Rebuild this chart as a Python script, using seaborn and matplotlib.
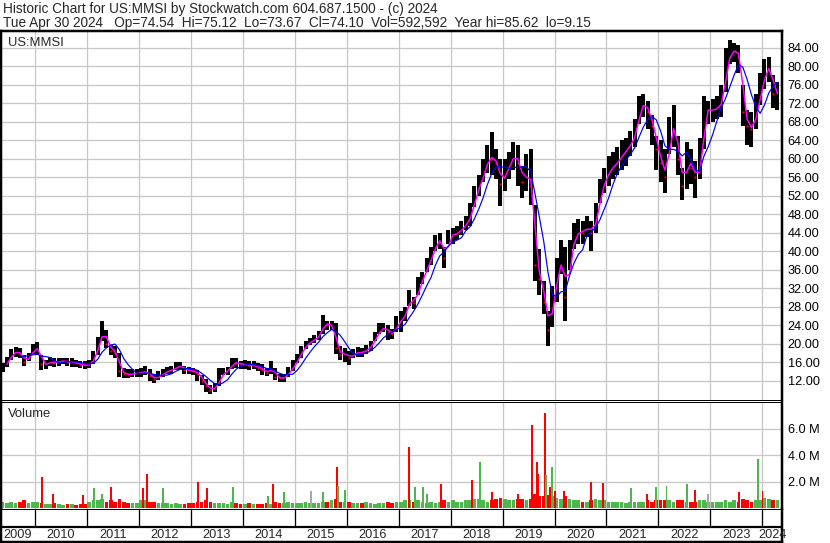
import numpy as np
import pandas as pd
import matplotlib
matplotlib.use("Agg")
import matplotlib.pyplot as plt
import seaborn as sns

# monthly bars, May 2009 .. Apr 2024
start_month = "2009-05"

close = [14.8, 16.3, 17.8, 18.3, 17.8, 16.0, 17.2, 18.8,
         19.0, 15.5, 15.5, 16.2, 15.8, 16.2, 16.3, 16.0, 16.0, 15.8, 15.4, 15.3,
         15.5, 17.0, 20.0, 23.0, 20.0, 18.5, 18.0, 14.0, 13.5, 13.3, 13.5, 13.6,
         13.8, 14.0, 13.0, 12.3, 13.0, 13.5, 14.2, 14.3, 15.0, 15.2, 14.3, 14.2,
         14.0, 13.5, 12.0, 10.8, 10.0, 10.5, 12.5, 14.0, 14.2, 16.0, 15.8, 15.5,
         15.5, 15.2, 15.3, 14.8, 14.3, 13.6, 14.8, 12.8, 12.5, 12.6, 14.0, 15.0,
         16.8, 18.5, 19.8, 20.5, 21.0, 21.8, 24.5, 24.0, 24.0, 19.0, 17.5, 18.0,
         16.8, 17.8, 18.2, 18.0, 18.8, 19.5, 21.5, 23.0, 23.5, 22.5, 22.0, 24.5,
         25.0, 27.0, 30.0, 28.8, 32.5, 34.5, 37.0, 39.0, 42.0, 42.5, 38.5, 43.5,
         43.5, 44.0, 45.0, 46.0, 48.0, 52.0, 54.5, 57.0, 60.5, 60.0, 59.0, 54.5,
         57.0, 59.0, 61.0, 59.0, 55.0, 57.0, 54.0, 37.0, 34.0, 29.0, 23.0, 30.0,
         35.0, 39.0, 30.0, 40.0, 43.0, 44.5, 44.0, 45.5, 44.0, 47.5, 53.0, 55.5,
         57.5, 58.5, 59.5, 61.0, 62.0, 63.5, 65.5, 71.0, 72.0, 70.0, 67.0, 62.0,
         59.0, 56.0, 66.0, 67.0, 60.0, 54.0, 60.0, 58.0, 56.0, 58.0, 70.5, 70.5,
         70.5, 71.0, 72.5, 80.5, 83.0, 83.5, 82.0, 70.0, 67.0, 66.5, 70.5, 75.0,
         79.0, 80.0, 74.0, 74.1]

high = [15.8, 17.2, 18.8, 19.3, 19.0, 17.5, 18.0, 20.0,
        20.3, 17.5, 16.5, 17.2, 16.8, 17.0, 17.0, 16.8, 16.8, 16.5, 16.2, 16.2,
        16.5, 18.5, 21.5, 24.8, 23.0, 19.8, 19.5, 18.0, 14.8, 14.5, 14.5, 14.5,
        14.8, 15.2, 14.5, 13.5, 14.0, 14.5, 15.0, 15.2, 16.0, 16.0, 15.2, 15.0,
        14.8, 14.2, 13.2, 12.3, 11.0, 11.5, 14.8, 14.8, 15.0, 17.0, 16.8, 16.2,
        16.5, 16.2, 16.3, 15.8, 15.5, 14.8, 16.3, 14.8, 13.4, 13.5, 15.0, 16.5,
        17.8, 19.5, 20.5, 21.3, 21.8, 22.8, 26.2, 25.0, 25.0, 24.5, 19.6, 19.0,
        18.5, 18.8, 19.2, 19.0, 19.8, 20.5, 22.5, 24.5, 24.5, 24.0, 23.2, 26.0,
        27.0, 28.0, 31.5, 30.0, 34.5, 35.5, 38.5, 41.0, 43.5, 44.0, 41.0, 44.5,
        45.0, 45.5, 46.5, 47.5, 50.5, 54.0, 56.5, 60.0, 63.0, 65.8, 62.0, 60.0,
        60.0, 61.5, 63.5, 63.0, 58.5, 61.0, 62.0, 50.0, 40.5, 33.5, 27.0, 32.5,
        38.5, 42.5, 41.0, 42.5, 46.0, 47.0, 46.5, 47.5, 46.5, 50.5, 55.5, 58.0,
        60.5, 61.5, 62.5, 64.0, 64.5, 66.0, 68.5, 73.5, 74.0, 72.5, 69.5, 65.0,
        64.0, 62.0, 69.0, 71.7, 65.0, 58.0, 63.5, 62.0, 59.5, 64.5, 73.5, 72.5,
        73.0, 73.5, 76.0, 84.0, 85.6, 85.0, 84.5, 76.0, 70.5, 70.0, 74.0, 78.5,
        81.5, 82.0, 78.0, 76.5]

low = [13.8, 15.0, 16.5, 17.2, 16.8, 15.2, 16.2, 17.5,
       17.5, 14.3, 14.5, 15.2, 15.0, 15.2, 15.5, 15.2, 15.0, 15.0, 14.7, 14.6,
       14.7, 15.5, 17.5, 20.5, 19.0, 17.5, 16.8, 12.8, 12.6, 12.5, 12.7, 12.8,
       12.9, 13.2, 12.0, 11.5, 12.2, 12.8, 13.5, 13.5, 14.2, 14.3, 13.5, 13.5,
       13.3, 12.0, 11.0, 9.6, 9.15, 9.6, 10.8, 13.2, 13.3, 14.6, 14.8, 14.6,
       14.6, 14.3, 14.5, 14.0, 13.2, 13.0, 13.5, 12.2, 11.8, 11.8, 12.8, 14.0,
       15.8, 17.0, 18.8, 19.8, 20.2, 20.8, 22.0, 23.0, 23.0, 17.8, 16.5, 16.0,
       15.4, 16.8, 17.2, 17.2, 17.8, 18.5, 20.5, 22.0, 22.5, 20.8, 21.0, 22.5,
       22.5, 25.0, 28.2, 27.5, 30.5, 33.0, 35.5, 37.0, 40.0, 40.5, 36.4, 41.5,
       41.5, 42.5, 43.5, 44.5, 45.5, 49.5, 52.0, 55.0, 57.0, 56.5, 55.5, 49.7,
       53.0, 55.5, 57.5, 54.0, 51.5, 53.0, 50.0, 33.5, 30.5, 26.5, 19.6, 23.5,
       29.0, 35.0, 25.0, 36.0, 40.5, 41.5, 41.5, 43.0, 40.0, 44.0, 50.5, 52.5,
       54.0, 55.5, 56.5, 57.5, 58.5, 60.5, 62.5, 67.5, 69.0, 66.5, 63.0, 57.5,
       55.0, 52.5, 61.0, 62.5, 56.5, 51.0, 53.5, 54.5, 51.5, 55.5, 62.0, 67.5,
       68.0, 68.5, 69.0, 74.5, 80.5, 81.0, 78.5, 67.0, 63.0, 62.5, 66.5, 71.5,
       75.0, 76.5, 71.0, 70.5]

# typical volume per month (millions)
volume = [0.5, 0.4, 0.5, 0.4, 0.5, 0.6, 0.4, 0.5,
          0.5, 0.4, 0.35, 0.3, 0.4, 0.3, 0.25, 0.3, 0.3, 0.25, 0.3, 0.35,
          0.5, 0.6, 0.6, 0.7, 0.5, 0.6, 0.5, 0.7, 0.5, 0.4, 0.4, 0.4,
          0.6, 0.6, 0.5, 0.5, 0.4, 0.4, 0.4, 0.35, 0.4, 0.35, 0.3, 0.4,
          0.4, 0.5, 0.5, 0.6, 0.5, 0.4, 0.4, 0.4, 0.35, 0.5, 0.4, 0.35,
          0.35, 0.4, 0.3, 0.35, 0.3, 0.4, 0.35, 0.5, 0.4, 0.4, 0.5, 0.4,
          0.4, 0.4, 0.5, 0.4, 0.4, 0.4, 0.5, 0.5, 0.6, 0.7, 0.5, 0.5,
          0.45, 0.4, 0.4, 0.4, 0.45, 0.4, 0.35, 0.4, 0.4, 0.5, 0.4, 0.5,
          0.5, 0.6, 0.6, 0.5, 0.6, 0.5, 0.4, 0.5, 0.4, 0.5, 0.6, 0.5,
          0.6, 0.5, 0.5, 0.6, 0.6, 0.7, 0.7, 0.6, 0.5, 0.6, 0.7, 0.8,
          0.7, 0.6, 0.6, 0.7, 0.7, 0.6, 0.7, 1.1, 0.9, 0.9, 1.0, 0.9,
          0.8, 0.7, 0.9, 0.7, 0.6, 0.6, 0.5, 0.5, 0.6, 0.7, 0.6, 0.6,
          0.5, 0.5, 0.5, 0.5, 0.4, 0.5, 0.5, 0.5, 0.5, 0.6, 0.5, 0.6,
          0.6, 0.6, 0.6, 0.5, 0.6, 0.6, 0.5, 0.5, 0.5, 0.6, 0.6, 0.5,
          0.5, 0.5, 0.5, 0.6, 0.5, 0.6, 0.5, 0.7, 0.6, 0.5, 0.6, 0.6,
          0.8, 0.7, 0.6, 0.6]

# single heavy-volume days (decimal year, millions, bar colour)
spike_t = [2010.13, 2010.35, 2010.92, 2011.14, 2011.29, 2011.46, 2012.08, 2012.16,
           2012.46, 2013.14, 2013.31, 2013.81, 2014.49, 2014.58, 2014.79, 2015.31,
           2015.54, 2015.81, 2015.83, 2015.97, 2017.20, 2017.31, 2017.47, 2017.55,
           2017.82, 2018.41, 2018.57, 2018.80, 2019.30, 2019.57, 2019.66, 2019.68,
           2019.82, 2019.84, 2019.91, 2019.95, 2020.01, 2020.18, 2020.70, 2020.93,
           2021.47, 2021.78, 2021.95, 2022.16, 2022.55, 2022.70, 2022.95, 2023.55,
           2023.92, 2024.00]
spike_v = [2.4, 1.05, 1.0, 1.5, 1.1, 1.6, 1.5, 2.6,
           1.5, 2.0, 1.5, 1.6, 0.9, 1.8, 1.2, 1.3,
           1.2, 3.1, 1.7, 1.4, 4.6, 1.6, 1.6, 1.1,
           1.8, 2.1, 3.5, 1.2, 1.1, 6.3, 3.5, 2.6,
           7.2, 2.5, 1.6, 3.1, 1.3, 1.3, 2.0, 1.9,
           1.5, 1.1, 1.6, 1.7, 1.8, 1.4, 1.1, 1.2,
           3.7, 1.3]
spike_c = ["r", "r", "r", "g", "g", "r", "r", "r",
           "g", "r", "r", "g", "g", "r", "g", "k",
           "g", "r", "g", "g", "r", "g", "g", "g",
           "r", "r", "g", "r", "r", "r", "r", "r",
           "r", "g", "r", "g", "r", "r", "r", "r",
           "g", "r", "g", "g", "g", "r", "k", "r",
           "g", "r"]

years = list(range(2009, 2025))
price_ticks = list(range(12, 85, 4))
vol_ticks = [2, 4, 6]

title1 = "Historic Chart for US:MMSI by Stockwatch.com 604.687.1500 - (c) 2024"
title2 = ("Tue Apr 30 2024   Op=74.54  Hi=75.12  Lo=73.67  Cl=74.10  "
          "Vol=592,592  Year hi=85.62  lo=9.15")

RED, GREEN, GREY = "#ff0000", "#4cb84c", "#a8a8a8"
GRID = "#c8c8c8"
PX = 0.72  # one pixel in points at dpi 100

dates = pd.date_range(start_month, periods=len(close), freq="MS")
df = pd.DataFrame({
    "t": dates.year + (dates.month - 0.5) / 12,
    "close": close, "high": high, "low": low, "vol": volume,
})
df["ma_fast"] = df["close"].rolling(2).mean()
df["ma_slow"] = df["close"].rolling(5).mean()
df["up"] = df["close"].diff().fillna(0) >= 0

sns.set_style("white")
plt.rcParams["font.family"] = ["Liberation Sans", "DejaVu Sans"]

W, H = 830, 543
fig = plt.figure(figsize=(W / 100, H / 100), dpi=100)


def box(x0, y0, x1, y1):
    return [x0 / W, 1 - y1 / H, (x1 - x0) / W, (y1 - y0) / H]


ax = fig.add_axes(box(1, 31, 782, 400))
axv = fig.add_axes(box(1, 402, 782, 509))
axy = fig.add_axes(box(1, 509, 782, 542))

xlim = (2010 + (1 - 35) / 51.95, 2010 + (782 - 35) / 51.95)

for a in (ax, axv, axy):
    a.set_xlim(*xlim)
    a.set_facecolor("white")
    for s in a.spines.values():
        s.set_color("black")
        s.set_linewidth(1 * PX)
    a.spines["left"].set_linewidth(2.5 * PX)
    a.spines["right"].set_linewidth(2.5 * PX)

ax.spines["top"].set_linewidth(2.5 * PX)
axy.spines["bottom"].set_linewidth(2.5 * PX)

# price panel
ax.set_ylim(7.82, 87.6)
ax.set_xticks(years[1:])
ax.set_yticks(price_ticks)
ax.set_yticklabels([f"{v:.2f}" for v in price_ticks])
ax.grid(True, color=GRID, lw=1.3 * PX)
ax.set_axisbelow(True)
ax.vlines(df["t"], df["low"], df["high"], color="black", lw=4.0 * PX)
down = df[~df["up"]]
ax.plot(down["t"], down["close"], ls="none", marker="s", ms=1.8,
        mec="none", color=RED)
sns.lineplot(data=df.dropna(subset=["ma_fast"]), x="t", y="ma_fast", ax=ax,
             color="#ff00ff", lw=1.5 * PX)
sns.lineplot(data=df.dropna(subset=["ma_slow"]), x="t", y="ma_slow", ax=ax,
             color="#0000ff", lw=1.2 * PX)
ax.text(0.009, 0.967, "US:MMSI", transform=ax.transAxes,
        fontsize=9.4, va="center", ha="left")

# volume panel
axv.set_ylim(-0.05, 8.02)
axv.set_xticks(years[1:])
axv.set_yticks(vol_ticks)
axv.set_yticklabels([f"{v:.1f} M" for v in vol_ticks])
axv.grid(True, color=GRID, lw=1.3 * PX)
axv.set_axisbelow(True)
bar_cols = [GREEN if u else RED for u in df["up"]]
axv.bar(df["t"], df["vol"], width=0.07, color=bar_cols, lw=0)
cmap = {"r": RED, "g": GREEN, "k": GREY}
axv.bar(spike_t, spike_v, width=0.03, color=[cmap[c] for c in spike_c], lw=0)
axv.text(0.009, 0.89, "Volume", transform=axv.transAxes,
         fontsize=9.4, va="center", ha="left")

for a in (ax, axv):
    a.yaxis.tick_right()
    a.tick_params(axis="y", length=0, pad=4, labelsize=9.2, colors="black")
    a.tick_params(axis="x", length=0, labelbottom=False)
    a.set_xlabel("")
    a.set_ylabel("")

# year strip
axy.set_ylim(0, 1)
axy.set_xticks([])
axy.set_yticks([])
mid = 15 / 33
for y in years[1:]:
    axy.plot([y, y], [mid, 1], color="black", lw=1.3 * PX)
axy.axhline(mid, color="black", lw=2.2 * PX)
for y in years:
    lo, hi = max(y, xlim[0]), min(y + 1, xlim[1])
    axy.text((lo + hi) / 2, 0.22, str(y), ha="center", va="center",
             fontsize=9.2, clip_on=False)

fig.text(3 / W, 1 - 8.5 / H, title1, fontsize=9.8, va="center", ha="left")
fig.text(3 / W, 1 - 23 / H, title2, fontsize=9.8, va="center", ha="left")

fig.savefig("out.png", dpi=100)
